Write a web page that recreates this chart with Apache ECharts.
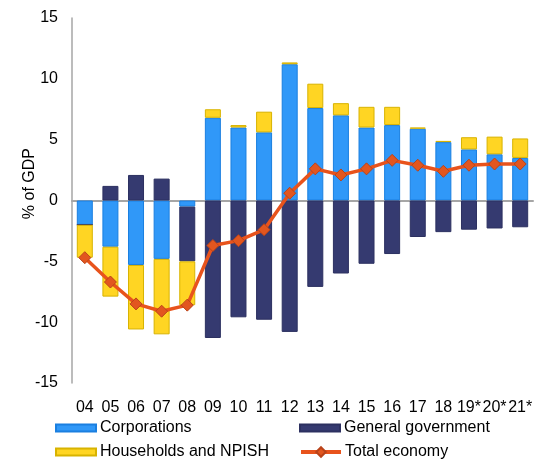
<!DOCTYPE html>
<html>
<head>
<meta charset="utf-8">
<script src="https://cdn.jsdelivr.net/npm/echarts@6/dist/echarts.min.js"></script>
<style>
  html, body { margin: 0; padding: 0; background: #fff; }
  #chart { width: 538px; height: 462px; }
</style>
</head>
<body>
<div id="chart"></div>
<script>
// categories (years)
const years = ['04', '05', '06', '07', '08', '09', '10', '11', '12', '13', '14', '15', '16', '17', '18', '19*', '20*', '21*'];
// % of GDP
const corporations = [-2.0, -3.8, -5.3, -4.8, -0.5, 6.8, 6.0, 5.6, 11.2, 7.6, 7.0, 6.0, 6.2, 5.9, 4.8, 4.2, 3.8, 3.5];
const generalGov = [0, 1.2, 2.1, 1.8, -4.5, -11.3, -9.6, -9.8, -10.8, -7.1, -6.0, -5.2, -4.4, -3.0, -2.6, -2.4, -2.3, -2.2];
const households = [-2.7, -4.1, -5.3, -6.2, -3.6, 0.7, 0.2, 1.7, 0.15, 2.0, 1.0, 1.7, 1.5, 0.1, 0.1, 1.0, 1.45, 1.6];
const totalEconomy = [-4.7, -6.7, -8.5, -9.1, -8.6, -3.7, -3.3, -2.4, 0.6, 2.6, 2.1, 2.6, 3.3, 2.9, 2.4, 2.9, 3.0, 3.0];
const yTicks = { min: -15, max: 15, interval: 5 };

const chart = echarts.init(document.getElementById('chart'));
const font = 'Liberation Sans, Arial, sans-serif';

const legendBase = {
  orient: 'horizontal',
  padding: 0,
  itemWidth: 40,
  itemHeight: 7,
  icon: 'rect',
  textStyle: { fontFamily: font, fontSize: 16, color: '#000', padding: [0, 0, 0, -1] },
  selectedMode: false
};

chart.setOption({
  animation: false,
  grid: { left: 72, right: 5, top: 18, bottom: 79 },
  graphic: [{
    type: 'text',
    left: 22,
    top: 148,
    rotation: Math.PI / 2,
    style: { text: '% of GDP', font: '16px ' + font, fill: '#000' }
  }],
  legend: [
    Object.assign({}, legendBase, { data: ['Corporations'], left: 55, top: 420 }),
    Object.assign({}, legendBase, { data: ['General government'], left: 299, top: 420 }),
    Object.assign({}, legendBase, { data: ['Households and NPISH'], left: 55, top: 444 }),
    Object.assign({}, legendBase, {
      data: ['Total economy'], left: 299, top: 444, itemHeight: 12, icon: undefined,
      lineStyle: { width: 4 }
    })
  ],
  xAxis: [{
    type: 'category',
    data: years,
    axisLine: { show: false, onZero: false },
    axisTick: { show: false },
    axisLabel: { margin: 17, fontFamily: font, fontSize: 16, color: '#000', interval: 0 }
  }, {
    type: 'category',
    data: years,
    position: 'bottom',
    axisLine: { show: true, onZero: true, lineStyle: { color: '#a6a6a6', width: 2 } },
    axisTick: { show: false },
    axisLabel: { show: false }
  }],
  yAxis: {
    type: 'value',
    min: yTicks.min,
    max: yTicks.max,
    interval: yTicks.interval,
    axisLine: { show: true, lineStyle: { color: '#a6a6a6', width: 1.5 } },
    axisTick: { show: false },
    splitLine: { show: false },
    axisLabel: { margin: 14, fontFamily: font, fontSize: 16, color: '#000' }
  },
  series: [{
    name: 'Corporations',
    type: 'bar',
    stack: 'sectors',
    barWidth: 16,
    data: corporations,
    itemStyle: { color: '#3098f8', borderColor: '#1a7fe0', borderWidth: 1 }
  }, {
    name: 'General government',
    type: 'bar',
    stack: 'sectors',
    barWidth: 16,
    data: generalGov,
    itemStyle: { color: '#353a70', borderColor: '#2c3060', borderWidth: 1 }
  }, {
    name: 'Households and NPISH',
    type: 'bar',
    stack: 'sectors',
    barWidth: 16,
    data: households,
    itemStyle: { color: '#ffd523', borderColor: '#d8b300', borderWidth: 1 }
  }, {
    name: 'Total economy',
    type: 'line',
    data: totalEconomy,
    symbol: 'diamond',
    symbolSize: 12,
    z: 5,
    lineStyle: { color: '#e8531c', width: 3.5 },
    itemStyle: { color: '#e2561f', borderColor: '#b9431a', borderWidth: 1 }
  }]
});
</script>
</body>
</html>
